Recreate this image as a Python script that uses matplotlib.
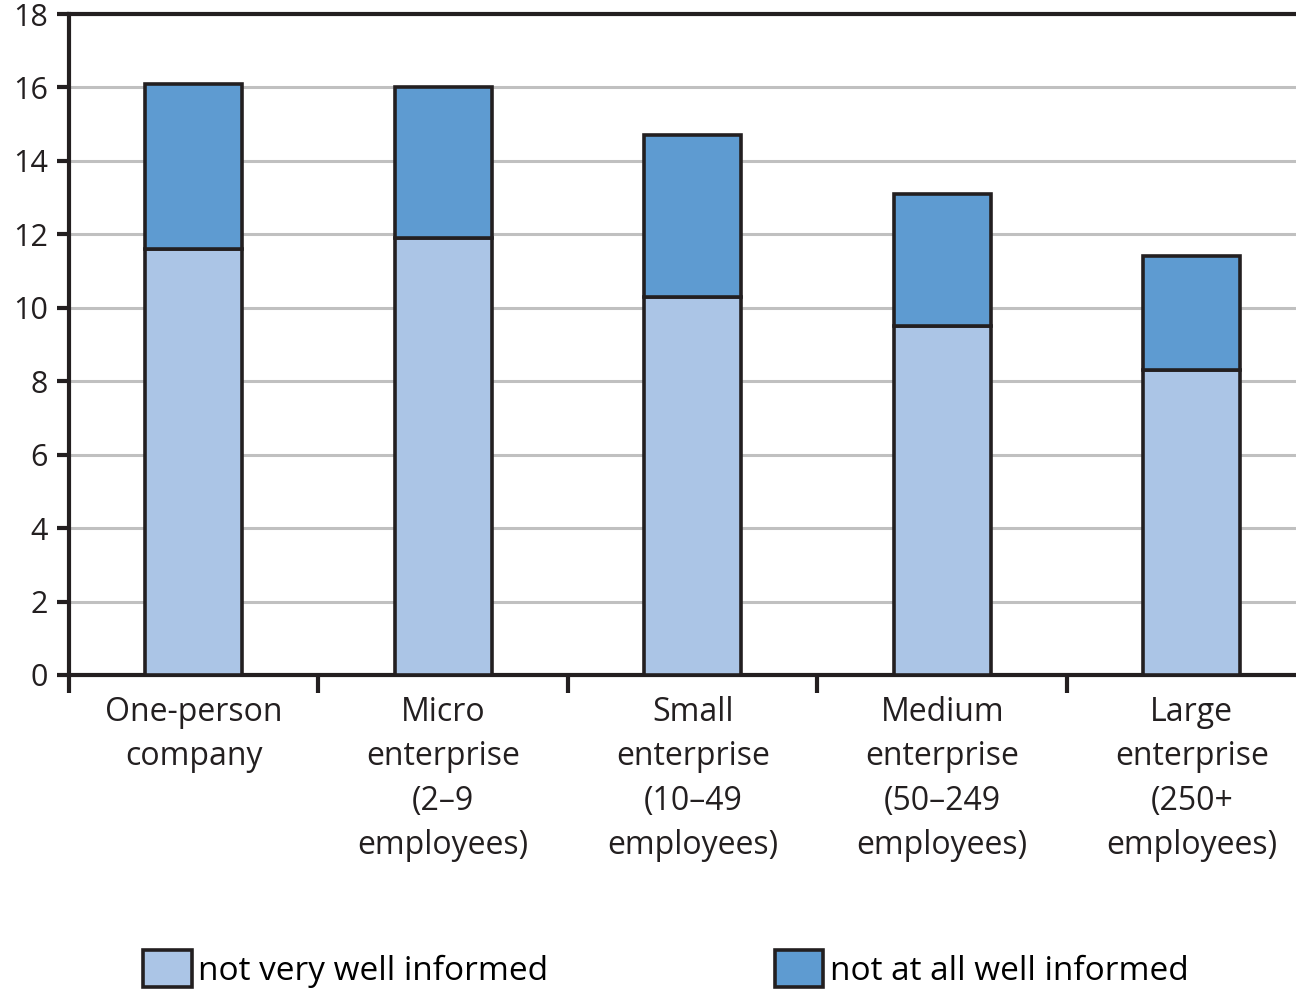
import matplotlib
matplotlib.use("Agg")
import matplotlib.pyplot as plt
from matplotlib.patches import Patch
import numpy as np

categories = ["One-person\ncompany", "Micro\nenterprise\n(2–9\nemployees)",
              "Small\nenterprise\n(10–49\nemployees)", "Medium\nenterprise\n(50–249\nemployees)",
              "Large\nenterprise\n(250+\nemployees)"]
not_very_well = [11.6, 11.9, 10.3, 9.5, 8.3]
not_at_all = [4.5, 4.1, 4.4, 3.6, 3.1]
series_labels = ["not very well informed", "not at all well informed"]
yticks = [0, 2, 4, 6, 8, 10, 12, 14, 16, 18]

plt.rcParams['font.family'] = ['Open Sans', 'DejaVu Sans']

c_light = "#abc5e6"
c_dark = "#5e9bd1"
c_edge = "#231f20"

fig = plt.figure(figsize=(12.96, 9.91), dpi=100)
ax = fig.add_axes([69/1296, 1 - 675/991, 1 - 69/1296, (675 - 14)/991])

x = np.arange(len(categories))
w = 0.39
ax.bar(x, not_very_well, width=w, color=c_light, edgecolor=c_edge, linewidth=2.6, zorder=3,
       label=series_labels[0])
ax.bar(x, not_at_all, width=w, bottom=not_very_well, color=c_dark, edgecolor=c_edge,
       linewidth=2.6, zorder=3, label=series_labels[1])

ax.set_yticks(yticks)
ax.set_yticklabels([str(v) for v in yticks], fontsize=22, color="#231f20")
ax.yaxis.grid(True, color="#c0c0c0", linewidth=2.2, zorder=0)
ax.set_axisbelow(True)

ax.set_xticks(x)
ax.set_xticklabels(categories, fontsize=23, color="#231f20", linespacing=1.46, va="top")
ax.set_xticks(np.arange(-0.5, len(categories), 1.0), minor=True)
ax.tick_params(axis="x", which="major", length=0, pad=15)
ax.tick_params(axis="x", which="minor", length=13, width=3, color=c_edge, direction="out")
ax.tick_params(axis="y", length=9, width=3, color=c_edge, direction="out", pad=6)

ax.set_ylim(0, 18)
ax.set_xlim(-0.5, 4.418)

for s in ["left", "bottom", "top"]:
    ax.spines[s].set_linewidth(3)
    ax.spines[s].set_color(c_edge)
ax.spines["right"].set_visible(False)

handles = [Patch(facecolor=c_light, edgecolor=c_edge, linewidth=2.6),
           Patch(facecolor=c_dark, edgecolor=c_edge, linewidth=2.6)]
fig.legend(handles, series_labels, loc="lower left", bbox_to_anchor=(140/1296, 0.0),
           ncol=2, frameon=False, fontsize=24, handlelength=1.45, handleheight=1.35,
           handletextpad=0.2, columnspacing=6.8, borderaxespad=0.0, borderpad=0.1)

fig.savefig("out.png", dpi=100)
